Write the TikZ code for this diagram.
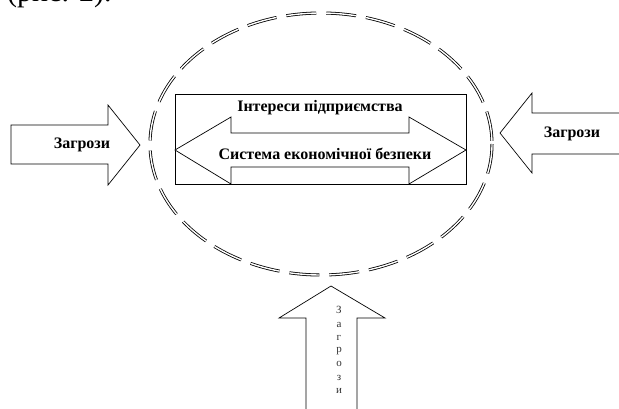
\documentclass[tikz,border=0pt]{standalone}
\usepackage{fontspec}
\setmainfont{Liberation Serif}
\begin{document}
\begin{tikzpicture}[x=1pt,y=-1pt,
  blockarrow/.style={draw=black, line width=0.7pt, fill=white, line join=miter},
  lbl/.style={font=\fontsize{16}{18}\selectfont\bfseries, inner sep=0pt},
  vlet/.style={font=\fontsize{11}{12}\selectfont, inner sep=0pt, text=black!80},
  ring/.style={draw=black, double=white, line width=0.8pt, double distance=1.4pt, dash pattern=on 30pt off 10pt}]
\useasboundingbox (0,0) rectangle (619,408);
\clip (0,0) rectangle (619,408);
% caption fragment at top
\node[anchor=base west, inner sep=0pt, font=\fontsize{30}{32}\selectfont] (cap) at (7,1) {(рис. 2).};
% dashed double ellipse
\draw[ring] (321,144) ellipse [x radius=171, y radius=131];
% left threat arrow
\draw[blockarrow] (11,125) -- (108,125) -- (108,105) -- (140,145) -- (108,185) -- (108,164) -- (11,164) -- cycle;
\node[lbl] (zl) at (82,145) {Загрози};
% right threat arrow
\draw[blockarrow] (625,113) -- (532,113) -- (532,93) -- (500,133) -- (532,173) -- (532,154) -- (625,154);
\node[lbl] (zr) at (572,134) {Загрози};
% central box
\draw[line width=0.7pt] (175,94) rectangle (466,184);
\draw[blockarrow] (175,150) -- (231,117) -- (231,133) -- (409,133) -- (409,117) -- (466,150) -- (409,184) -- (409,167) -- (231,167) -- (231,184) -- cycle;
\node[lbl] (int) at (320,108) {Інтереси підприємства};
\node[lbl] (sys) at (325,154) {Система економічної безпеки};
% bottom threat arrow
\draw[blockarrow] (306,412) -- (306,318) -- (279,318) -- (331,286) -- (385,318) -- (357,318) -- (357,412);
\node[vlet] (b1) at (339,310) {З};
\node[vlet] (b2) at (339,325) {а};
\node[vlet] (b3) at (339,338) {г};
\node[vlet] (b4) at (339,351) {р};
\node[vlet] (b5) at (339,364) {о};
\node[vlet] (b6) at (339,378) {з};
\node[vlet] (b7) at (339,391) {и};
\end{tikzpicture}
\end{document}
